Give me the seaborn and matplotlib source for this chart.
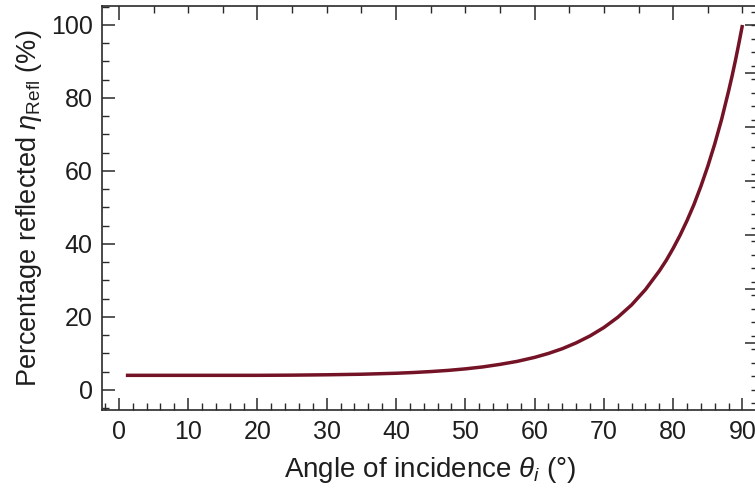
import matplotlib
matplotlib.use("Agg")
import matplotlib.pyplot as plt
import seaborn as sns
import pandas as pd
from matplotlib.ticker import MultipleLocator, FixedLocator

# data
angle_deg = [1, 5, 10, 15, 20, 25, 30, 35, 40, 42.5, 45, 47.5, 50, 52.5, 55,
             57.5, 60, 62, 64, 66, 68, 70, 72, 74, 76, 78, 79, 80, 81, 82, 83,
             84, 85, 86, 87, 88, 88.5, 89, 89.5, 90]
reflected_pct = [4.0, 4.0, 4.0, 4.0, 4.0, 4.05, 4.15, 4.3, 4.57, 4.77, 5.03,
                 5.35, 5.77, 6.3, 7.0, 7.83, 8.92, 10.0, 11.3, 12.9, 14.8,
                 17.1, 19.9, 23.3, 27.5, 32.6, 35.5, 38.8, 42.4, 46.4, 50.8,
                 55.8, 61.3, 67.4, 74.2, 81.9, 86.0, 90.4, 95.1, 100.0]
x_ticks = [0, 10, 20, 30, 40, 50, 60, 70, 80, 90]
y_ticks = [0, 20, 40, 60, 80, 100]

df = pd.DataFrame({"angle": angle_deg, "refl": reflected_pct})

sns.set_style("ticks")
plt.rcParams["font.family"] = ["Liberation Sans", "DejaVu Sans"]
plt.rcParams["mathtext.fontset"] = "custom"
plt.rcParams["mathtext.rm"] = "Liberation Sans"
plt.rcParams["mathtext.it"] = "Liberation Sans:italic"
plt.rcParams["mathtext.bf"] = "Liberation Sans:bold"

W, H = 755, 491
fig = plt.figure(figsize=(W / 100, H / 100), dpi=100)
fig.patch.set_facecolor("white")
left, right, bottom, top = 102.3, 757, 410, 6
ax = fig.add_axes([left / W, (H - bottom) / H, (right - left) / W, (bottom - top) / H])

sns.lineplot(data=df, x="angle", y="refl", ax=ax, color="#741226", lw=2.5,
             solid_capstyle="butt")

ax.set_xlim(-2.4, 92.1)
ax.set_ylim(-5.5, 105.2)
ax.xaxis.set_major_locator(FixedLocator(x_ticks))
ax.xaxis.set_minor_locator(MultipleLocator(2))
ax.yaxis.set_major_locator(FixedLocator(y_ticks))
ax.yaxis.set_minor_locator(MultipleLocator(5))
ax.set_xticklabels([str(t) for t in x_ticks])
ax.set_yticklabels([str(t) for t in y_ticks])

tc = "#2a2a2a"
ax.tick_params(which="major", direction="in", length=9, width=1.1, color=tc,
               labelsize=18, labelcolor="#1e1e1e", pad=7)
ax.tick_params(which="minor", direction="in", length=4.8, width=1.0, color=tc)
for s in ax.spines.values():
    s.set_color(tc)
    s.set_linewidth(1.2)

# top axis ticks
axt = ax.twiny()
axt.set_xlim(ax.get_xlim())
axt.xaxis.set_major_locator(MultipleLocator(20))
axt.xaxis.set_minor_locator(MultipleLocator(5))
axt.tick_params(axis="x", which="major", direction="in", length=10, width=1.1,
                color=tc, labeltop=False)
axt.tick_params(axis="x", which="minor", direction="in", length=5, width=1.0,
                color=tc)
# right axis ticks
axr = ax.twinx()
axr.set_ylim(ax.get_ylim())
axr.yaxis.set_major_locator(FixedLocator([12.9, 27.7, 42.5, 57.3, 72.1, 86.9, 100]))
axr.yaxis.set_minor_locator(MultipleLocator(3.7))
axr.tick_params(axis="y", which="major", direction="in", length=9, width=1.1,
                color=tc, labelright=False)
axr.tick_params(axis="y", which="minor", direction="in", length=4.5, width=1.0,
                color=tc)
for a in (axt, axr):
    for s in a.spines.values():
        s.set_visible(False)

ax.set_xlabel(r"Angle of incidence $\theta_i$ (°)", fontsize=20,
              color="#1e1e1e", labelpad=8)
ax.set_ylabel(r"Percentage reflected $\eta_{\mathrm{Refl}}$ (%)", fontsize=19.5,
              color="#1e1e1e", labelpad=5)

fig.savefig("out.png", dpi=100, facecolor="white")
